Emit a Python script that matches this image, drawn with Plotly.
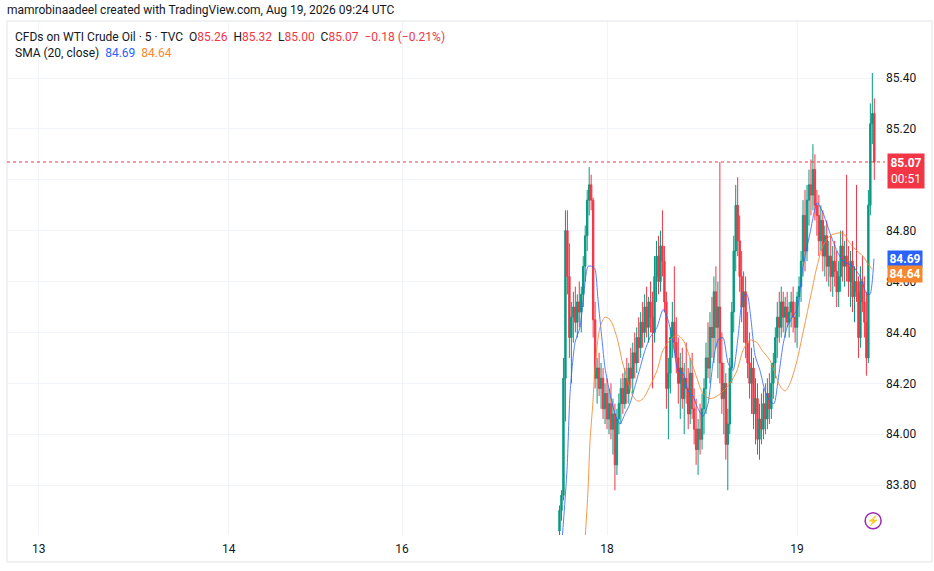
"""WTI crude oil 5-minute chart in the TradingView style, with two SMA lines."""

import pandas as pd
import plotly.graph_objects as go

# ---- data -------------------------------------------------------------------
# 15-minute candles starting Aug 17 2026 18:00 UTC
candle_start = "2026-08-17 18:00"
candle_step = "15min"

opens = [
    83.62, 83.70, 83.76, 84.22, 84.80, 84.62, 84.38, 84.46, 84.50, 84.44,
    84.52, 84.48, 84.55, 84.66, 84.78, 84.92, 84.98, 84.92, 84.45, 84.22,
    84.26, 84.18, 84.22, 84.10, 84.16, 84.06, 84.12, 84.02, 84.08, 83.88,
    84.06, 84.12, 84.18, 84.12, 84.22, 84.16, 84.26, 84.22, 84.32, 84.28,
    84.38, 84.34, 84.44, 84.40, 84.50, 84.42, 84.52, 84.46, 84.40, 84.62,
    84.70, 84.60, 84.74, 84.68, 84.52, 84.18, 84.24, 84.38, 84.44, 84.36,
    84.30, 84.20, 84.26, 84.14, 84.22, 84.18, 84.08, 84.24, 84.10, 84.02,
    83.94, 84.02, 83.98, 84.10, 84.18, 84.30, 84.26, 84.42, 84.38, 84.56,
    84.42, 84.50, 84.28, 84.14, 84.20, 83.96, 84.04, 84.26, 84.48, 84.72,
    84.90, 84.76, 84.62, 84.50, 84.56, 84.36, 84.28, 84.20, 84.26, 84.08,
    84.14, 83.98, 84.06, 84.02, 84.12, 84.06, 84.16, 84.10, 84.20, 84.28,
    84.38, 84.46, 84.42, 84.52, 84.46, 84.50, 84.44, 84.48, 84.52, 84.46,
    84.42, 84.54, 84.58, 84.68, 84.86, 84.72, 84.92, 84.98, 84.94, 85.04,
    84.90, 84.86, 84.76, 84.84, 84.70, 84.78, 84.66, 84.70, 84.62, 84.68,
    84.64, 84.56, 84.62, 84.74, 84.66, 84.70, 84.66, 84.60, 84.68, 84.54,
    84.60, 84.56, 84.38, 84.60, 84.52, 84.44, 84.30, 84.90, 85.22, 85.26,
]
highs = [
    83.72, 83.78, 84.30, 84.88, 84.88, 84.75, 84.52, 84.56, 84.58, 84.55,
    84.60, 84.58, 84.70, 84.82, 84.96, 85.05, 85.02, 84.93, 84.52, 84.30,
    84.32, 84.28, 84.26, 84.20, 84.22, 84.18, 84.20, 84.14, 84.12, 84.10,
    84.16, 84.22, 84.24, 84.26, 84.30, 84.28, 84.34, 84.36, 84.40, 84.42,
    84.46, 84.48, 84.52, 84.55, 84.58, 84.54, 84.60, 84.56, 84.70, 84.76,
    84.78, 84.80, 84.88, 84.74, 84.56, 84.30, 84.42, 84.52, 84.66, 84.46,
    84.38, 84.32, 84.34, 84.28, 84.36, 84.26, 84.30, 84.32, 84.18, 84.14,
    84.06, 84.12, 84.16, 84.22, 84.36, 84.44, 84.48, 84.54, 84.62, 84.66,
    84.60, 85.07, 84.40, 84.28, 84.24, 84.10, 84.30, 84.52, 84.78, 84.98,
    85.01, 84.86, 84.72, 84.64, 84.62, 84.48, 84.40, 84.34, 84.30, 84.22,
    84.20, 84.12, 84.16, 84.18, 84.20, 84.22, 84.24, 84.28, 84.32, 84.42,
    84.52, 84.56, 84.58, 84.56, 84.54, 84.56, 84.52, 84.56, 84.58, 84.52,
    84.56, 84.62, 84.72, 84.92, 84.96, 84.98, 85.04, 85.08, 85.14, 85.10,
    84.96, 84.94, 84.90, 84.88, 84.82, 84.84, 84.76, 84.78, 84.74, 84.76,
    84.72, 84.68, 84.80, 84.80, 84.76, 85.02, 84.74, 84.72, 84.76, 84.66,
    84.98, 84.62, 84.66, 84.70, 84.62, 84.56, 84.96, 85.30, 85.42, 85.32,
]
lows = [
    83.60, 83.66, 83.74, 84.05, 84.55, 84.30, 84.20, 84.36, 84.40, 84.38,
    84.42, 84.40, 84.50, 84.60, 84.72, 84.86, 84.88, 84.38, 84.18, 84.12,
    84.15, 84.10, 84.06, 84.04, 84.02, 84.00, 83.98, 83.92, 83.78, 83.84,
    84.00, 84.04, 84.08, 84.10, 84.12, 84.12, 84.18, 84.16, 84.22, 84.24,
    84.28, 84.30, 84.34, 84.36, 84.38, 84.36, 84.40, 84.18, 84.36, 84.52,
    84.55, 84.56, 84.62, 84.48, 84.10, 83.98, 84.16, 84.30, 84.32, 84.24,
    84.12, 84.06, 84.10, 84.00, 84.12, 84.02, 84.04, 84.06, 83.96, 83.88,
    83.84, 83.92, 83.94, 84.00, 84.08, 84.22, 84.20, 84.30, 84.28, 84.34,
    84.22, 84.20, 84.08, 84.00, 83.90, 83.78, 84.00, 84.20, 84.40, 84.64,
    84.70, 84.56, 84.44, 84.36, 84.30, 84.22, 84.14, 84.08, 84.02, 83.96,
    83.92, 83.90, 83.96, 83.98, 84.00, 84.02, 84.04, 84.06, 84.14, 84.22,
    84.30, 84.36, 84.38, 84.40, 84.38, 84.42, 84.38, 84.42, 84.40, 84.36,
    84.34, 84.46, 84.52, 84.62, 84.64, 84.68, 84.82, 84.86, 84.88, 84.84,
    84.78, 84.70, 84.72, 84.64, 84.62, 84.60, 84.58, 84.56, 84.54, 84.58,
    84.50, 84.50, 84.56, 84.60, 84.58, 84.60, 84.54, 84.50, 84.48, 84.44,
    84.52, 84.30, 84.34, 84.48, 84.38, 84.23, 84.28, 84.86, 85.14, 85.00,
]
closes = [
    83.70, 83.76, 84.22, 84.80, 84.62, 84.38, 84.46, 84.50, 84.44, 84.52,
    84.48, 84.55, 84.66, 84.78, 84.92, 84.98, 84.92, 84.45, 84.22, 84.26,
    84.18, 84.22, 84.10, 84.16, 84.06, 84.12, 84.02, 84.08, 83.88, 84.06,
    84.12, 84.18, 84.12, 84.22, 84.16, 84.26, 84.22, 84.32, 84.28, 84.38,
    84.34, 84.44, 84.40, 84.50, 84.42, 84.52, 84.46, 84.40, 84.62, 84.70,
    84.60, 84.74, 84.68, 84.52, 84.18, 84.24, 84.38, 84.44, 84.36, 84.30,
    84.20, 84.26, 84.14, 84.22, 84.18, 84.08, 84.24, 84.10, 84.02, 83.94,
    84.02, 83.98, 84.10, 84.18, 84.30, 84.26, 84.42, 84.38, 84.56, 84.42,
    84.50, 84.28, 84.14, 84.20, 83.96, 84.04, 84.26, 84.48, 84.72, 84.90,
    84.76, 84.62, 84.50, 84.56, 84.36, 84.28, 84.20, 84.26, 84.08, 84.14,
    83.98, 84.06, 84.02, 84.12, 84.06, 84.16, 84.10, 84.20, 84.28, 84.38,
    84.46, 84.42, 84.52, 84.46, 84.50, 84.44, 84.48, 84.52, 84.46, 84.42,
    84.54, 84.58, 84.68, 84.86, 84.72, 84.92, 84.98, 84.94, 85.04, 84.90,
    84.86, 84.76, 84.84, 84.70, 84.78, 84.66, 84.70, 84.62, 84.68, 84.64,
    84.56, 84.62, 84.74, 84.66, 84.70, 84.66, 84.60, 84.68, 84.54, 84.60,
    84.56, 84.38, 84.60, 84.52, 84.44, 84.30, 84.90, 85.22, 85.26, 85.07,
]

# SMA lines, hours from Aug 18 00:00 UTC
sma_blue_hours = [
    -5.68, -5.05, -4.67, -4.04, -3.41, -3.03, -2.40, -1.89, -1.52, -1.14,
    -0.63, -0.25, 0.38, 1.01, 1.64, 2.27, 2.90, 3.54, 4.17, 4.80,
    5.43, 6.31, 7.07, 7.70, 8.33, 8.96, 9.60, 10.23, 10.86, 11.49,
    12.12, 12.75, 13.38, 14.02, 14.65, 15.28, 15.91, 16.54, 17.17, 17.68,
    18.18, 18.69, 19.32, 19.95, 20.58, 21.09, 21.59, 22.22, 22.73, 23.36,
    23.99, 24.75, 25.63, 26.52, 27.27, 28.16, 29.04, 29.80, 31.06, 31.94,
    32.83, 33.21, 33.71,
]
sma_blue = [
    83.58, 83.86, 84.16, 84.36, 84.42, 84.52, 84.66, 84.66, 84.65, 84.53,
    84.37, 84.26, 84.16, 84.08, 84.04, 84.08, 84.12, 84.19, 84.26, 84.33,
    84.38, 84.42, 84.49, 84.45, 84.36, 84.25, 84.24, 84.17, 84.15, 84.10,
    84.07, 84.12, 84.28, 84.37, 84.38, 84.28, 84.25, 84.38, 84.54, 84.55,
    84.45, 84.31, 84.25, 84.17, 84.13, 84.12, 84.21, 84.35, 84.42, 84.46,
    84.49, 84.66, 84.79, 84.91, 84.87, 84.79, 84.72, 84.68, 84.66, 84.62,
    84.55, 84.55, 84.69,
]
sma_orange_hours = [
    -2.78, -2.40, -2.15, -1.77, -1.52, -0.88, -0.25, 0.38, 1.26, 1.89,
    2.53, 3.28, 3.91, 4.55, 5.43, 6.31, 7.07, 7.95, 8.84, 9.60,
    10.48, 11.36, 12.12, 13.01, 13.89, 14.65, 15.53, 16.41, 17.17, 18.06,
    18.94, 19.57, 20.58, 21.21, 21.84, 22.47, 23.11, 23.99, 24.75, 25.63,
    26.52, 27.27, 28.16, 29.04, 29.80, 30.68, 31.57, 32.32, 32.95, 33.46,
]
sma_orange = [
    83.58, 83.78, 83.97, 84.13, 84.26, 84.42, 84.46, 84.45, 84.38, 84.29,
    84.22, 84.15, 84.13, 84.14, 84.19, 84.25, 84.33, 84.37, 84.39, 84.37,
    84.30, 84.22, 84.16, 84.14, 84.15, 84.17, 84.20, 84.25, 84.33, 84.37,
    84.36, 84.33, 84.29, 84.24, 84.19, 84.17, 84.20, 84.29, 84.40, 84.53,
    84.66, 84.74, 84.78, 84.79, 84.79, 84.75, 84.72, 84.70, 84.67, 84.65,
]

# time axis labels (TradingView squeezes the weekend, so positions are in chart hours)
day_labels = ["13", "14", "16", "18", "19"]
day_hours = [-71.76, -47.77, -25.88, 0.0, 24.0]
price_ticks = [83.80, 84.00, 84.20, 84.40, 84.60, 84.80, 85.00, 85.20, 85.40]
# 85.00 sits under the last-price badge, as on the screenshot
price_labels = ["83.80", "84.00", "84.20", "84.40", "84.60", "84.80", "", "85.20", "85.40"]

last_close = 85.07
sma_blue_last = 84.69
sma_orange_last = 84.64
countdown = "00:51"

UP = "#089981"
DOWN = "#F23645"
BLUE = "#2962FF"
ORANGE = "#F7862D"
TEXT = "#131722"
GRID = "#f0f3fa"
FONT = "Roboto"

# ---- figure -----------------------------------------------------------------
times = pd.date_range(candle_start, periods=len(opens), freq=candle_step)
hours = (times - pd.Timestamp("2026-08-18 00:00")) / pd.Timedelta(hours=1)

fig = go.Figure()

fig.add_trace(go.Candlestick(
    x=hours, open=opens, high=highs, low=lows, close=closes,
    increasing=dict(line=dict(color=UP, width=1), fillcolor=UP),
    decreasing=dict(line=dict(color=DOWN, width=1), fillcolor=DOWN),
    whiskerwidth=0,
    hoverinfo="skip",
))
fig.add_trace(go.Scatter(
    x=sma_blue_hours, y=sma_blue, mode="lines",
    line=dict(color=BLUE, width=1, shape="spline", smoothing=0.6),
    opacity=0.8, hoverinfo="skip",
))
fig.add_trace(go.Scatter(
    x=sma_orange_hours, y=sma_orange, mode="lines",
    line=dict(color=ORANGE, width=1, shape="spline", smoothing=0.8),
    opacity=0.85, hoverinfo="skip",
))

# last price dotted line
fig.add_shape(type="line", xref="paper", x0=0, x1=1, yref="y",
              y0=last_close, y1=last_close,
              line=dict(color=DOWN, width=1, dash="dot"))

# outer chart frame
fig.add_shape(type="rect", xref="paper", yref="paper",
              x0=0, x1=1.0535, y0=-0.0525, y1=1,
              line=dict(color="#e0e3eb", width=1), layer="below")

# lightning icon (bottom right)
fig.add_shape(type="circle", xref="x", yref="y",
              xsizemode="pixel", ysizemode="pixel",
              xanchor=33.6, yanchor=83.66, x0=-8, x1=8, y0=-8, y1=8,
              line=dict(color="#9c27b0", width=1.5))
fig.add_annotation(x=33.6, y=83.66, xref="x", yref="y", text="⚡",
                   showarrow=False, font=dict(size=10, color="#9c27b0"))


def span(txt, color):
    return f"<span style='color:{color}'>{txt}</span>"


nb = "\u00a0"
legend1 = (
    f"CFDs on WTI Crude Oil · 5 · TVC{nb}{nb}"
    f"O{span('85.26', DOWN)}{nb}{nb}H{span('85.32', DOWN)}{nb}{nb}"
    f"L{span('85.00', DOWN)}{nb}{nb}C{span('85.07', DOWN)}{nb}{nb}"
    f"{span('−0.18 (−0.21%)', DOWN)}"
)
legend2 = (
    f"SMA (20, close){nb}{nb}{span(f'{sma_blue_last:.2f}', BLUE)}"
    f"{nb}{nb}{span(f'{sma_orange_last:.2f}', ORANGE)}"
)

fig.add_annotation(x=-0.0023, y=1.0214, xref="paper", yref="paper",
                   xanchor="left", yanchor="middle", showarrow=False,
                   text="mamrobinaadeel created with TradingView.com, Aug 19, 2026 09:24 UTC",
                   font=dict(family=FONT, size=12, color=TEXT))
fig.add_annotation(x=0.0068, y=0.9689, xref="paper", yref="paper",
                   xanchor="left", yanchor="middle", showarrow=False,
                   text=legend1, font=dict(family=FONT, size=12, color=TEXT))
fig.add_annotation(x=0.0068, y=0.9377, xref="paper", yref="paper",
                   xanchor="left", yanchor="middle", showarrow=False,
                   text=legend2, font=dict(family=FONT, size=12, color=TEXT))

# price-scale badges
fig.add_annotation(x=1.0023, y=last_close, xref="paper", yref="y",
                   xanchor="left", yanchor="top", yshift=9, showarrow=False,
                   text=f"<b>{last_close:.2f}</b><br>{countdown}",
                   font=dict(family=FONT, size=12, color="white"),
                   bgcolor=DOWN, borderpad=2, width=32, align="center")
fig.add_annotation(x=1.0023, y=sma_blue_last, xref="paper", yref="y",
                   xanchor="left", yanchor="middle", showarrow=False,
                   text=f"<b>{sma_blue_last:.2f}</b>",
                   font=dict(family=FONT, size=12, color="white"),
                   bgcolor=BLUE, borderpad=1, width=32, height=14)
fig.add_annotation(x=1.0023, y=sma_orange_last, xref="paper", yref="y",
                   xanchor="left", yanchor="middle", yshift=-3, showarrow=False,
                   text=f"<b>{sma_orange_last:.2f}</b>",
                   font=dict(family=FONT, size=12, color="white"),
                   bgcolor=ORANGE, borderpad=1, width=32, height=14)

fig.update_layout(
    width=934, height=571,
    margin=dict(l=7, r=49, t=21, b=36),
    paper_bgcolor="white", plot_bgcolor="white",
    showlegend=False,
    boxgap=0,
    font=dict(family=FONT, size=12, color=TEXT),
    xaxis=dict(
        range=[-75.76, 35.10],
        tickvals=day_hours, ticktext=day_labels,
        showgrid=True, gridcolor=GRID, gridwidth=1,
        zeroline=False, showline=False, ticks="",
        ticklabelstandoff=5,
        tickfont=dict(family=FONT, size=12, color=TEXT),
        rangeslider=dict(visible=False),
    ),
    yaxis=dict(
        side="right",
        range=[83.604, 85.624],
        tickvals=price_ticks, ticktext=price_labels,
        showgrid=True, gridcolor=GRID, gridwidth=1,
        zeroline=False, showline=False, ticks="",
        tickfont=dict(family=FONT, size=12, color=TEXT),
    ),
)

# the page's default 8px body margin would push the chart off its frame
fig.write_html("out.html", config={"displayModeBar": False},
               post_script="document.body.style.margin='0';")
